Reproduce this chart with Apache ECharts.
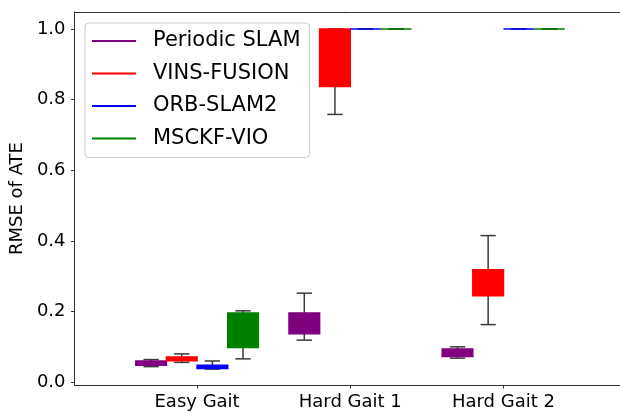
<!DOCTYPE html>
<html>
<head>
<meta charset="utf-8">
<script src="https://cdn.jsdelivr.net/npm/echarts@6/dist/echarts.min.js"></script>
<style>
  html, body { margin: 0; padding: 0; background: #fff; overflow: hidden; }
  #frame { width: 620px; height: 411px; overflow: hidden; position: relative; }
  #chart { width: 632px; height: 411px; position: absolute; left: 0; top: 0; }
</style>
</head>
<body>
<div id="frame"><div id="chart"></div></div>
<script>
// Gait scenarios along the x axis (placed at positions 1, 2, 3)
const categories = ['Easy Gait', 'Hard Gait 1', 'Hard Gait 2'];
const categoryPositions = [1, 2, 3];

const seriesNames = ['Periodic SLAM', 'VINS-FUSION', 'ORB-SLAM2', 'MSCKF-VIO'];

// Per scenario: [lower whisker, Q1, Q3, upper whisker]
const periodicSlam = [
  [0.044, 0.048, 0.060, 0.064],
  [0.119, 0.137, 0.196, 0.252],
  [0.068, 0.073, 0.094, 0.100]
];
const vinsFusion = [
  [0.056, 0.061, 0.071, 0.080],
  [0.758, 0.837, 1.000, 1.000],
  [0.163, 0.245, 0.318, 0.415]
];
const orbSlam2 = [
  [0.037, 0.039, 0.048, 0.060],
  [1.000, 1.000, 1.000, 1.000],
  [1.000, 1.000, 1.000, 1.000]
];
const msckfVio = [
  [0.066, 0.098, 0.196, 0.202],
  [1.000, 1.000, 1.000, 1.000],
  [1.000, 1.000, 1.000, 1.000]
];

const yTicks = [0.0, 0.2, 0.4, 0.6, 0.8, 1.0];

const seriesValues = [periodicSlam, vinsFusion, orbSlam2, msckfVio];
const seriesColors = ['#800080', '#ff0000', '#0000ff', '#008000'];
const boxOffsets = [-0.3, -0.1, 0.1, 0.3];
const BOX_WIDTH = 0.2;
const FONT = '"DejaVu Sans", sans-serif';
const SPINE = { show: true, onZero: false, lineStyle: { color: '#333', width: 1 } };

function makeRenderer(color, offset) {
  return function (params, api) {
    const x = api.value(0) + offset;
    const pLow = api.coord([x, api.value(1)]);
    const pQ1 = api.coord([x, api.value(2)]);
    const pQ3 = api.coord([x, api.value(3)]);
    const pHigh = api.coord([x, api.value(4)]);
    const w = api.size([BOX_WIDTH, 0])[0];
    const cx = pQ1[0];
    const capHalf = w / 4;
    const whiskerStyle = { stroke: '#3a3a3a', lineWidth: 1.5 };
    return {
      type: 'group',
      children: [
        { type: 'line', shape: { x1: cx, y1: pQ3[1], x2: cx, y2: pHigh[1] }, style: whiskerStyle },
        { type: 'line', shape: { x1: cx, y1: pQ1[1], x2: cx, y2: pLow[1] }, style: whiskerStyle },
        { type: 'line', shape: { x1: cx - capHalf, y1: pHigh[1], x2: cx + capHalf, y2: pHigh[1] }, style: whiskerStyle },
        { type: 'line', shape: { x1: cx - capHalf, y1: pLow[1], x2: cx + capHalf, y2: pLow[1] }, style: whiskerStyle },
        {
          type: 'rect',
          shape: { x: cx - w / 2, y: pQ3[1], width: w, height: pQ1[1] - pQ3[1] },
          style: { fill: color, stroke: color, lineWidth: 1.5 }
        }
      ]
    };
  };
}

const series = seriesNames.map(function (name, i) {
  return {
    name: name,
    type: 'custom',
    renderItem: makeRenderer(seriesColors[i], boxOffsets[i]),
    itemStyle: { color: seriesColors[i] },
    encode: { x: 0, y: [1, 2, 3, 4] },
    data: seriesValues[i].map(function (v, k) {
      return [categoryPositions[k]].concat(v);
    })
  };
});

// The plot area runs slightly past the visible frame on the right
const chart = echarts.init(document.getElementById('chart'), null, { renderer: 'canvas' });
chart.setOption({
  animation: false,
  backgroundColor: '#ffffff',
  grid: {
    left: 74, top: 12, right: 6, bottom: 26,
    containLabel: false
  },
  legend: {
    orient: 'vertical',
    left: 85, top: 23,
    padding: [6, 9, 7, 7],
    itemGap: 8.5,
    itemWidth: 44,
    itemHeight: 2,
    icon: 'rect',
    backgroundColor: 'rgba(255,255,255,0.8)',
    borderColor: '#cccccc',
    borderWidth: 1,
    borderRadius: 4,
    textStyle: { fontFamily: FONT, fontSize: 21, color: '#000', lineHeight: 24, padding: [0, 0, 0, 12] },
    data: seriesNames
  },
  xAxis: [{
    type: 'value',
    position: 'bottom',
    min: 0.2, max: 3.8,
    splitLine: { show: false },
    axisLine: SPINE,
    axisTick: { show: true, length: 3.5, lineStyle: { color: '#333', width: 1 }, customValues: categoryPositions },
    axisLabel: {
      customValues: categoryPositions,
      margin: 8,
      fontFamily: FONT, fontSize: 18, color: '#000',
      formatter: function (v) { return categories[categoryPositions.indexOf(Math.round(v))] || ''; }
    }
  }, {
    // top spine only
    type: 'value',
    position: 'top',
    min: 0.2, max: 3.8,
    splitLine: { show: false },
    axisLine: SPINE,
    axisTick: { show: false },
    axisLabel: { show: false }
  }],
  yAxis: {
    type: 'value',
    position: 'left',
    min: -0.008, max: 1.048,
    name: 'RMSE of ATE',
    nameLocation: 'middle',
    nameGap: 46,
    nameTextStyle: { fontFamily: FONT, fontSize: 18, color: '#000' },
    splitLine: { show: false },
    axisLine: SPINE,
    axisTick: { show: true, length: 3.5, lineStyle: { color: '#333', width: 1 }, customValues: yTicks },
    axisLabel: {
      customValues: yTicks,
      margin: 9,
      fontFamily: FONT, fontSize: 18, color: '#000',
      formatter: function (v) { return v.toFixed(1); }
    }
  },
  series: series
});
</script>
</body>
</html>
